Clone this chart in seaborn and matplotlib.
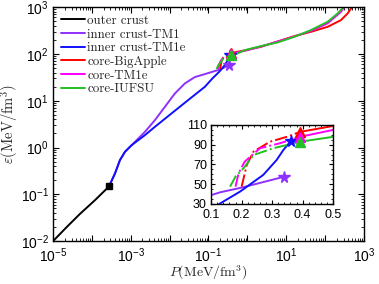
import numpy as np
import pandas as pd
import matplotlib
matplotlib.use("Agg")
import matplotlib.pyplot as plt
import matplotlib.ticker as mticker
import seaborn as sns

# ---- data ------------------------------------------------------------
outer_P = [1e-5, 2.25e-5, 4.9e-5, 1.2e-4, 2.75e-4]
outer_e = [0.01, 0.020, 0.038, 0.075, 0.147]

tm1_P = [2.75e-4, 3.93e-4, 5.27e-4, 7.1e-4, 1.05e-3, 2.32e-3, 4.19e-3, 7.57e-3,
         0.0137, 0.0247, 0.0447, 0.0807, 0.13, 0.2, 0.34]
tm1_e = [0.147, 0.28, 0.538, 0.81, 1.12, 2.16, 3.85, 7.41,
         14.3, 23.4, 32.0, 37.0, 41.8, 46.5, 57.6]

tm1e_P = [2.75e-4, 3.93e-4, 5.27e-4, 7.1e-4, 1.05e-3, 2.32e-3, 4.19e-3, 0.01125,
          0.030, 0.0807, 0.127, 0.195, 0.271, 0.315, 0.337, 0.362]
tm1e_e = [0.147, 0.28, 0.538, 0.81, 1.12, 1.84, 2.77, 5.36,
          10.3, 19.8, 30.0, 42.5, 59.4, 74.6, 84.7, 94.0]

# core EOS: dash-dot part (below the crust-core transition) and solid part
ba_P_lo = [0.2, 0.217, 0.239, 0.293, 0.348, 0.392]
ba_e_lo = [47.5, 69.5, 83.0, 93.0, 98.0, 103.0]
ba_P_hi = [0.392, 0.5, 1.0, 2.26, 16.3, 43.7, 117, 258, 383, 515]
ba_e_hi = [103.0, 109.0, 122.0, 142.0, 240.0, 297.0, 379.0, 527.0, 733.0, 1050.0]

tm1e_core_P_lo = [0.18, 0.19, 0.21, 0.26, 0.326, 0.392]
tm1e_core_e_lo = [47.5, 61.0, 72.8, 86.4, 91.5, 98.0]
tm1e_core_P_hi = [0.392, 0.5, 1.0, 2.26, 16.3, 43.7, 117, 258, 315]
tm1e_core_e_hi = [98.0, 105.0, 120.0, 144.0, 235.0, 310.0, 449.0, 794.0, 1014.0]

iu_P_lo = [0.162, 0.18, 0.206, 0.239, 0.304, 0.392]
iu_e_lo = [47.5, 57.6, 66.0, 79.6, 86.4, 93.0]
iu_P_hi = [0.392, 0.5, 0.847, 2.26, 6.08, 16.3, 43.7, 117, 212, 315]
iu_e_hi = [93.0, 98.0, 120.0, 147.0, 176.0, 232.0, 323.0, 485.0, 733.0, 1050.0]

# transition points
square_P, square_e = [2.75e-4], [0.147]
star_P = [0.34, 0.362]
star_e = [57.6, 94.0]
tri_P = [0.392, 0.392, 0.392]
tri_e = [103.0, 98.0, 93.0]

inset_yticks = [30, 50, 70, 90, 110]

C_PURPLE = "#9030ff"
C_BLUE = "#1010ff"
C_RED = "#ff0000"
C_MAG = "#ff00ff"
C_GREEN = "#22c022"

# ---- style ------------------------------------------------------------
sns.set_style("ticks")
plt.rcParams["font.family"] = ["Liberation Sans", "DejaVu Sans"]
plt.rcParams["mathtext.fontset"] = "cm"
plt.rcParams["xtick.direction"] = "in"
plt.rcParams["ytick.direction"] = "in"
plt.rcParams["xtick.top"] = True
plt.rcParams["ytick.right"] = True
plt.rcParams["axes.linewidth"] = 1.0
plt.rcParams["xtick.color"] = "black"
plt.rcParams["ytick.color"] = "black"
plt.rcParams["axes.edgecolor"] = "black"

LW = 1.4


def line(ax, P, e, color, label=None, ls="-"):
    df = pd.DataFrame({"P": P, "e": e})
    sns.lineplot(data=df, x="P", y="e", ax=ax, color=color, lw=LW,
                 linestyle=ls, label=label, sort=False, estimator=None,
                 legend=False if label is None else "auto")


def draw_all(ax, with_labels):
    lab = (lambda s: s) if with_labels else (lambda s: None)
    line(ax, outer_P, outer_e, "black", lab("outer crust"))
    line(ax, tm1_P, tm1_e, C_PURPLE, lab("inner crust-TM1"))
    line(ax, tm1e_P, tm1e_e, C_BLUE, lab("inner crust-TM1e"))
    line(ax, ba_P_hi, ba_e_hi, C_RED, lab("core-BigApple"))
    line(ax, tm1e_core_P_hi, tm1e_core_e_hi, C_MAG, lab("core-TM1e"))
    line(ax, iu_P_hi, iu_e_hi, C_GREEN, lab("core-IUFSU"))
    line(ax, ba_P_lo, ba_e_lo, C_RED, ls="-.")
    line(ax, tm1e_core_P_lo, tm1e_core_e_lo, C_MAG, ls="-.")
    line(ax, iu_P_lo, iu_e_lo, C_GREEN, ls="-.")
    ax.plot(square_P, square_e, "s", color="black", ms=4.5, zorder=5)
    ax.plot(star_P[:1], star_e[:1], "*", color=C_PURPLE, ms=8.5, zorder=5)
    ax.plot(star_P[1:], star_e[1:], "*", color=C_BLUE, ms=8.5, zorder=5)
    for p, e, c in zip(tri_P, tri_e, [C_RED, C_MAG, C_GREEN]):
        ax.plot([p], [e], "^", color=c, ms=6.5, zorder=5)


fig = plt.figure(figsize=(3.79, 2.84), dpi=100)
ax = fig.add_axes([0.140, 0.151, 0.820, 0.824])
draw_all(ax, True)

ax.set_xscale("log")
ax.set_yscale("log")
ax.set_xlim(1e-5, 1e3)
ax.set_ylim(1e-2, 1e3)
ax.xaxis.set_major_locator(mticker.LogLocator(base=10, numticks=20))
ax.xaxis.set_minor_locator(mticker.LogLocator(base=10, subs=np.arange(2, 10), numticks=20))
ax.yaxis.set_major_locator(mticker.LogLocator(base=10, numticks=20))
ax.yaxis.set_minor_locator(mticker.LogLocator(base=10, subs=np.arange(2, 10), numticks=20))


def odd_decade(v, pos):
    ex = int(round(np.log10(v)))
    if ex % 2 == 0:
        return ""
    return r"$\mathdefault{10^{%d}}$" % ex


ax.xaxis.set_major_formatter(mticker.FuncFormatter(odd_decade))
ax.tick_params(which="major", length=4, width=0.8, labelsize=10)
ax.tick_params(axis="x", which="major", pad=4)
ax.tick_params(axis="y", which="major", pad=3)
ax.tick_params(which="minor", length=2, width=0.6)
ax.set_xlabel(r"$P(\mathrm{MeV/fm^3})$", fontsize=10, labelpad=-1)
ax.set_ylabel(r"$\varepsilon(\mathrm{MeV/fm^3})$", fontsize=10.5, labelpad=0)

ax.legend(loc="upper left", frameon=False, prop={"family": "cmr10", "size": 9.3},
          handlelength=1.9, handletextpad=0.15, labelspacing=0.12,
          borderaxespad=0.3, borderpad=0.3)

# ---- inset -------------------------------------------------------------
axin = fig.add_axes([0.557, 0.282, 0.322, 0.278])
draw_all(axin, False)
axin.set_xlim(0.1, 0.5)
axin.set_ylim(30, 110)
axin.set_xlabel("")
axin.set_ylabel("")
axin.xaxis.set_major_locator(mticker.MultipleLocator(0.1))
axin.xaxis.set_minor_locator(mticker.MultipleLocator(0.02))
axin.yaxis.set_major_locator(mticker.FixedLocator(inset_yticks))
axin.yaxis.set_minor_locator(mticker.MultipleLocator(5))
axin.xaxis.set_major_formatter(mticker.FormatStrFormatter("%.1f"))
axin.tick_params(which="major", length=3, width=0.8, labelsize=9)
axin.tick_params(axis="x", which="major", pad=4)
axin.tick_params(axis="y", which="major", pad=3)
axin.tick_params(which="minor", length=1.5, width=0.6)

fig.savefig("out.png", dpi=100)
